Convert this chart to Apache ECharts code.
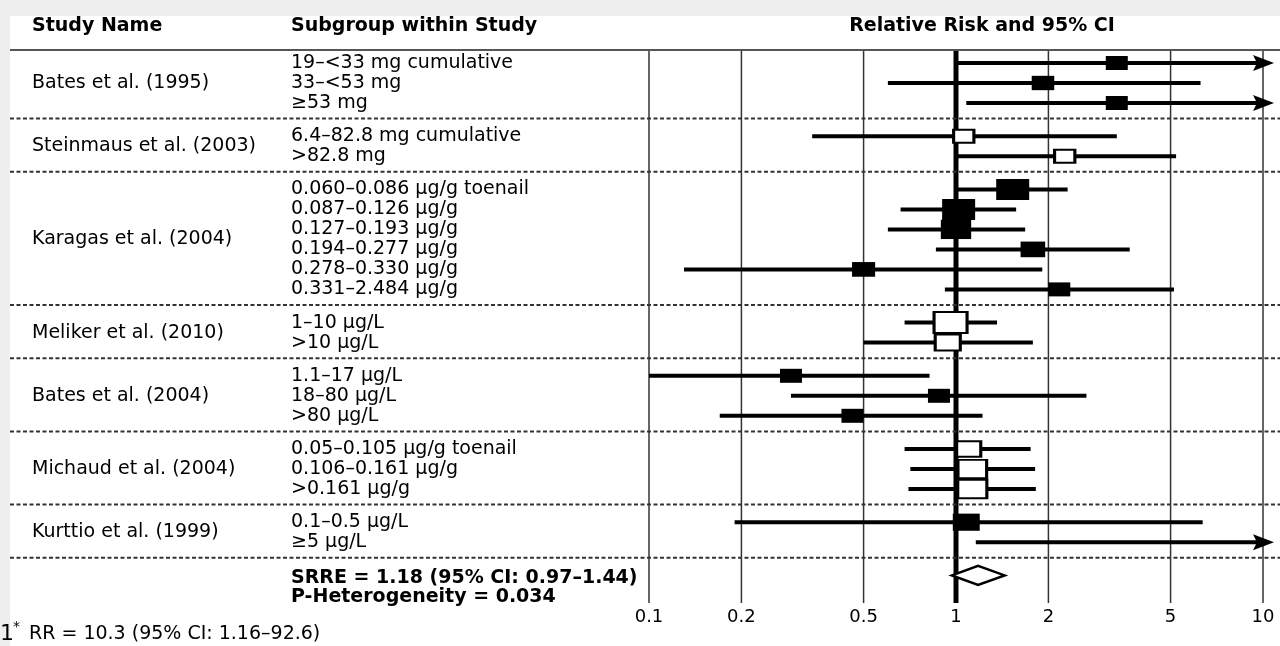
<!DOCTYPE html>
<html>
<head>
<meta charset="utf-8">
<script src="https://cdn.jsdelivr.net/npm/echarts@6/dist/echarts.min.js"></script>
<style>
  html, body { margin: 0; padding: 0; background: #eeeeee; }
  #chart { width: 1280px; height: 646px; }
</style>
</head>
<body>
<div id="chart"></div>
<script>
// ================= DATA =================
const studyNames = [
  'Bates et al. (1995)',
  'Steinmaus et al. (2003)',
  'Karagas et al. (2004)',
  'Meliker et al. (2010)',
  'Bates et al. (2004)',
  'Michaud et al. (2004)',
  'Kurttio et al. (1999)'
];
const subgroupLabels = [
  '19–<33 mg cumulative', '33–<53 mg', '≥53 mg',
  '6.4–82.8 mg cumulative', '>82.8 mg',
  '0.060–0.086 µg/g toenail', '0.087–0.126 µg/g', '0.127–0.193 µg/g',
  '0.194–0.277 µg/g', '0.278–0.330 µg/g', '0.331–2.484 µg/g',
  '1–10 µg/L', '>10 µg/L',
  '1.1–17 µg/L', '18–80 µg/L', '>80 µg/L',
  '0.05–0.105 µg/g toenail', '0.106–0.161 µg/g', '>0.161 µg/g',
  '0.1–0.5 µg/L', '≥5 µg/L'
];
const studyOfRow = [0,0,0, 1,1, 2,2,2,2,2,2, 3,3, 4,4,4, 5,5,5, 6,6];
const relativeRisk = [3.34,1.92,3.34, 1.06,2.26, 1.53,1.02,1.00,1.78,0.50,2.17, 0.96,0.94, 0.29,0.88,0.46, 1.10,1.13,1.13, 1.08,10.3];
const ciLower      = [1.01,0.60,1.08, 0.34,1.01, 1.01,0.66,0.60,0.86,0.13,0.92, 0.68,0.50, 0.10,0.29,0.17, 0.68,0.71,0.70, 0.19,1.16];
const ciUpper      = [11.0,6.26,11.0, 3.34,5.21, 2.31,1.57,1.68,3.68,1.91,5.13, 1.36,1.78, 0.82,2.66,1.22, 1.75,1.81,1.82, 6.36,92.6];
const relativeWeight = [1,1.05,1, 0.85,0.85, 2.25,2.25,1.9,1.25,1.1,1.0, 2.25,1.3, 1,1,1, 1.2,1.7,1.75, 1.5,1];
const srre = 1.18, srreLower = 0.97, srreUpper = 1.44;
const pHeterogeneity = 0.034;
const tickValues = [0.1, 0.2, 0.5, 1, 2, 5, 10];
const footnoteRow = 20;

// ================= LAYOUT / STYLE =================
const W = 1280, H = 646;
const GRID = { left: 649, right: 17, top: 50, bottom: 43 };
const ROW_PX = 20;
const Y_MAX = (H - GRID.top - GRID.bottom) / ROW_PX;
const FIRST = 0.65, GAP = 0.66;
const X_MIN = 0.1, X_MAX = 10;
const OPEN_MARKER_STUDIES = [1, 3, 5];
const FONT = '"DejaVu Sans"';
const F_REG = '19px ' + FONT;
const F_BOLD = 'bold 19px ' + FONT;
const INK = '#000';
const STUDY_X = 32, SUB_X = 291;

const rowY = studyOfRow.map((s, i) => FIRST + i + s * GAP);
const summaryY = FIRST + subgroupLabels.length + studyNames.length * GAP;

const groupRows = studyNames.map((_, g) => rowY.filter((_, i) => studyOfRow[i] === g));
const studyLabelY = groupRows.map(r => (r[0] + r[r.length - 1]) / 2);
const separatorY = groupRows.map((r, g) => {
  const next = g < groupRows.length - 1 ? groupRows[g + 1][0] : summaryY;
  return (r[r.length - 1] + next) / 2 - 0.05;
});

const filledPts = [], openPts = [];
relativeRisk.forEach((v, i) => {
  if (v > X_MAX) return;
  const p = [v, rowY[i], relativeWeight[i]];
  (OPEN_MARKER_STUDIES.includes(studyOfRow[i]) ? openPts : filledPts).push(p);
});
const markerSize = val => { const k = Math.sqrt(val[2]); return [22 * k, 14 * k]; };

const chart = echarts.init(document.getElementById('chart'));
chart.setOption({
  animation: false,
  backgroundColor: '#eeeeee',
  grid: { left: GRID.left, right: GRID.right, top: GRID.top, bottom: GRID.bottom, containLabel: false },
  xAxis: {
    type: 'log', logBase: 10, min: X_MIN, max: X_MAX,
    axisLine: { show: false }, axisTick: { show: false },
    axisLabel: { show: false }, splitLine: { show: false }
  },
  yAxis: {
    type: 'value', min: 0, max: Y_MAX, inverse: true, show: false,
    splitLine: { show: false }
  },
  graphic: [
    { type: 'rect', z: -10, shape: { x: 10, y: 16, width: W - 10, height: H - 16 }, style: { fill: '#ffffff' } },
    { type: 'line', z: 5, shape: { x1: 10, y1: GRID.top, x2: W, y2: GRID.top }, style: { stroke: '#555', lineWidth: 2 } },
    { type: 'text', z: 5, x: STUDY_X, y: 26, style: { text: 'Study Name', font: F_BOLD, fill: INK, textVerticalAlign: 'middle' } },
    { type: 'text', z: 5, x: SUB_X, y: 26, style: { text: 'Subgroup within Study', font: F_BOLD, fill: INK, textVerticalAlign: 'middle' } },
    { type: 'text', z: 5, x: 982, y: 26, style: { text: 'Relative Risk and 95% CI', font: F_BOLD, fill: INK, textAlign: 'center', textVerticalAlign: 'middle' } },
    { type: 'text', z: 5, x: 0, y: 634, style: { text: '1', font: '22px ' + FONT, fill: INK, textVerticalAlign: 'middle' } },
    { type: 'text', z: 5, x: 13, y: 627, style: { text: '*', font: '14px ' + FONT, fill: INK, textVerticalAlign: 'middle' } },
    { type: 'text', z: 5, x: 29, y: 634, style: {
      text: 'RR = ' + relativeRisk[footnoteRow] + ' (95% CI: ' + ciLower[footnoteRow] + '–' + ciUpper[footnoteRow] + ')',
      font: F_REG, fill: INK, textVerticalAlign: 'middle' } }
  ],
  series: [
    // vertical reference lines and tick labels
    {
      type: 'custom', z: 1, clip: false, silent: true,
      data: tickValues.map(v => [v, 0]),
      encode: { x: 0, y: 1 },
      renderItem: (params, api) => {
        const v = api.value(0);
        const top = api.coord([v, 0]);
        const bot = api.coord([v, Y_MAX]);
        return {
          type: 'group', children: [
            { type: 'line', shape: { x1: top[0], y1: top[1], x2: bot[0], y2: bot[1] },
              style: { stroke: v === 1 ? '#000' : '#333', lineWidth: v === 1 ? 5 : 1.5 } },
            { type: 'text', x: bot[0], y: bot[1] + 14,
              style: { text: String(v), font: '18px ' + FONT, fill: INK, textAlign: 'center', textVerticalAlign: 'middle' } }
          ]
        };
      }
    },
    // dashed separators
    {
      type: 'custom', z: 2, clip: false, silent: true,
      data: separatorY.map(y => [1, y]),
      encode: { x: 0, y: 1 },
      renderItem: (params, api) => {
        const p = api.coord([1, api.value(1)]);
        return { type: 'line', shape: { x1: 10, y1: p[1], x2: W, y2: p[1] },
          style: { stroke: '#333', lineWidth: 2, lineDash: [4, 2.5] } };
      }
    },
    // study names
    {
      type: 'custom', z: 4, clip: false, silent: true,
      data: studyLabelY.map((y, g) => [1, y, g]),
      encode: { x: 0, y: 1 },
      renderItem: (params, api) => {
        const p = api.coord([1, api.value(1)]);
        return { type: 'text', x: STUDY_X, y: p[1],
          style: { text: studyNames[api.value(2)], font: F_REG, fill: INK, textVerticalAlign: 'middle' } };
      }
    },
    // subgroup labels
    {
      type: 'custom', z: 4, clip: false, silent: true,
      data: rowY.map((y, i) => [1, y, i]),
      encode: { x: 0, y: 1 },
      renderItem: (params, api) => {
        const p = api.coord([1, api.value(1)]);
        return { type: 'text', x: SUB_X, y: p[1],
          style: { text: subgroupLabels[api.value(2)], font: F_REG, fill: INK, textVerticalAlign: 'middle' } };
      }
    },
    // confidence intervals
    {
      type: 'custom', z: 3, clip: false, silent: true,
      data: rowY.map((y, i) => [ciLower[i], ciUpper[i], y]),
      encode: { x: [0, 1], y: 2 },
      renderItem: (params, api) => {
        const lo = Math.max(api.value(0), X_MIN);
        const hiRaw = api.value(1);
        const hi = Math.min(hiRaw, X_MAX);
        const y = api.value(2);
        const p1 = api.coord([lo, y]);
        const p2 = api.coord([hi, y]);
        const children = [{ type: 'line', shape: { x1: p1[0], y1: p1[1], x2: p2[0], y2: p2[1] },
          style: { stroke: '#000', lineWidth: 4 } }];
        if (hiRaw > X_MAX) {
          children.push({ type: 'polygon', shape: { points: [[p2[0] - 10, p2[1] - 8], [p2[0] + 11, p2[1]], [p2[0] - 10, p2[1] + 8], [p2[0] - 6, p2[1]]] },
            style: { fill: '#000' } });
        }
        return { type: 'group', children };
      }
    },
    // filled markers
    {
      type: 'scatter', z: 6, silent: true,
      symbol: 'rect', symbolSize: markerSize,
      itemStyle: { color: '#000', opacity: 1 },
      data: filledPts
    },
    // open markers
    {
      type: 'scatter', z: 6, silent: true,
      symbol: 'rect', symbolSize: markerSize,
      itemStyle: { color: '#fff', borderColor: '#000', borderWidth: 2.5, opacity: 1 },
      data: openPts
    },
    // summary diamond + summary text
    {
      type: 'custom', z: 6, clip: false, silent: true,
      data: [[srreLower, srre, srreUpper, summaryY]],
      encode: { x: [0, 1, 2], y: 3 },
      renderItem: (params, api) => {
        const y = api.value(3);
        const a = api.coord([api.value(0), y]);
        const m = api.coord([api.value(1), y]);
        const b = api.coord([api.value(2), y]);
        return {
          type: 'group', children: [
            { type: 'polygon', shape: { points: [[a[0], a[1]], [m[0], m[1] - 9.5], [b[0], b[1]], [m[0], m[1] + 9.5]] },
              style: { fill: '#fff', stroke: '#000', lineWidth: 2.5 } },
            { type: 'text', x: SUB_X, y: m[1] + 3,
              style: { text: 'SRRE = ' + srre.toFixed(2) + ' (95% CI: ' + srreLower.toFixed(2) + '–' + srreUpper.toFixed(2) + ')',
                font: F_BOLD, fill: INK, textVerticalAlign: 'middle' } },
            { type: 'text', x: SUB_X, y: m[1] + 22,
              style: { text: 'P-Heterogeneity = ' + pHeterogeneity, font: F_BOLD, fill: INK, textVerticalAlign: 'middle' } }
          ]
        };
      }
    }
  ]
});
</script>
</body>
</html>
